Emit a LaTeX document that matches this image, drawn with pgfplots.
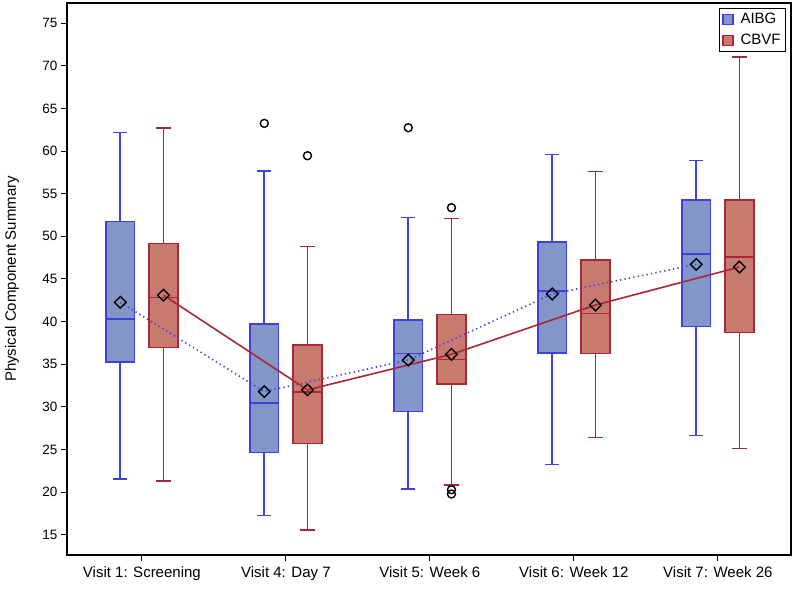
\documentclass[border=0pt]{standalone}
\usepackage{pgfplots}
\pgfplotsset{compat=1.18}
\usepackage{fontspec}
\setmainfont{Liberation Sans}
\definecolor{aE}{RGB}{64,64,224}
\definecolor{aF}{RGB}{130,150,200}
\definecolor{cE}{RGB}{168,40,56}
\definecolor{cF}{RGB}{200,122,110}
% pos, lower whisker, Q1, median, Q3, upper whisker, edge, fill
\newcommand{\drawbox}[8]{%
 \pgfmathsetmacro\bxl{#1-0.1}\pgfmathsetmacro\bxr{#1+0.1}%
 \pgfmathsetmacro\cpl{#1-0.05}\pgfmathsetmacro\cpr{#1+0.05}%
 \addplot[forget plot, draw=#7, line width=1.6bp] coordinates {(\cpl,#2) (\cpr,#2) (nan,nan) (#1,#2) (#1,#3) (nan,nan) (#1,#5) (#1,#6) (nan,nan) (\cpl,#6) (\cpr,#6)};
 \addplot[forget plot, draw=#7, fill=#8, line width=1.6bp] coordinates {(\bxl,#3) (\bxr,#3) (\bxr,#5) (\bxl,#5)} -- cycle;
 \addplot[forget plot, draw=#7, line width=1.6bp] coordinates {(\bxl,#4) (\bxr,#4)};
}
\begin{document}
\begin{tikzpicture}
\begin{axis}[
  scale only axis, width=724bp, height=552bp,
  xmin=-0.52, xmax=4.508, ymin=12.65, ymax=77.35,
  unbounded coords=jump,
  xtick={0,1,2,3,4},
  xticklabels={Visit 1: Screening, Visit 4: Day 7, Visit 5: Week 6, Visit 6: Week 12, Visit 7: Week 26},
  ytick={15,20,...,75},
  xtick pos=bottom, ytick pos=left, tick align=outside,
  major tick length=6bp,
  every tick/.style={black, line width=1bp},
  axis line style={line width=1.2bp},
  /pgf/number format/assume math mode=true,
  x tick label style={font=\fontsize{15bp}{17bp}\selectfont, yshift=-2bp},
  y tick label style={font=\fontsize{13.5bp}{15bp}\selectfont},
  ylabel={Physical Component Summary},
  every axis y label/.style={at={(axis description cs:-0.076,0.5)}, rotate=90, anchor=center, font=\fontsize{15bp}{17bp}\selectfont},
  legend style={at={(1,1)}, anchor=north east, xshift=-5bp, yshift=-5bp, draw=black, line width=1bp, font=\fontsize{15bp}{17bp}\selectfont, inner xsep=3bp, inner ysep=3bp, row sep=5bp, /tikz/every odd column/.append style={column sep=5bp}},
  legend image code/.code={\draw[#1, line width=1.2bp] (0bp,-5bp) rectangle (10bp,5bp);},
  legend cell align=left,
]
% AIBG boxes
\drawbox{-0.15}{21.56}{35.27}{40.31}{51.76}{62.15}{aE}{aF}
\drawbox{0.85}{17.26}{24.65}{30.5}{39.76}{57.66}{aE}{aF}
\drawbox{1.85}{20.4}{29.45}{36.29}{40.2}{52.19}{aE}{aF}
\drawbox{2.85}{23.24}{36.33}{43.6}{49.37}{59.61}{aE}{aF}
\drawbox{3.85}{26.64}{39.41}{47.93}{54.26}{58.91}{aE}{aF}
% CBVF boxes
\drawbox{0.15}{21.33}{36.95}{42.85}{49.14}{62.73}{cE}{cF}
\drawbox{1.15}{15.55}{25.7}{31.76}{37.26}{48.83}{cE}{cF}
\drawbox{2.15}{20.86}{32.7}{35.55}{40.86}{52.11}{cE}{cF}
\drawbox{3.15}{26.4}{36.29}{40.94}{47.2}{57.62}{cE}{cF}
\drawbox{4.15}{25.11}{38.71}{47.58}{54.26}{71.02}{cE}{cF}
% mean lines
\addplot[forget plot, aE, line width=1.6bp, dash pattern=on 1.3bp off 3.2bp] coordinates {(-0.15,42.27) (0.85,31.8) (1.85,35.5) (2.85,43.24) (3.85,46.72)};
\addplot[forget plot, cE, line width=1.6bp] coordinates {(0.15,43.1) (1.15,32.0) (2.15,36.17) (3.15,41.95) (4.15,46.4)};
% means
\addplot[forget plot, only marks, mark=square, mark size=4.1bp, mark options={rotate=45, black, line width=1.4bp, fill=none}] coordinates {(-0.15,42.27) (0.85,31.8) (1.85,35.5) (2.85,43.24) (3.85,46.72) (0.15,43.1) (1.15,32.0) (2.15,36.17) (3.15,41.95) (4.15,46.4)};
% outliers
\addplot[forget plot, only marks, mark=o, mark size=4bp, mark options={black, line width=1.4bp}] coordinates {(0.85,63.24) (1.15,59.45) (1.85,62.73) (2.15,53.36) (2.15,20.3) (2.15,19.8)};
\addlegendimage{draw=aE, fill=aF}
\addlegendentry{AIBG}
\addlegendimage{draw=cE, fill=cF}
\addlegendentry{CBVF}
\end{axis}
\pgfresetboundingbox
\path (current axis.south west) ++(-67bp,-35bp) rectangle ([shift={(3bp,3bp)}]current axis.north east);
\end{tikzpicture}
\end{document}
